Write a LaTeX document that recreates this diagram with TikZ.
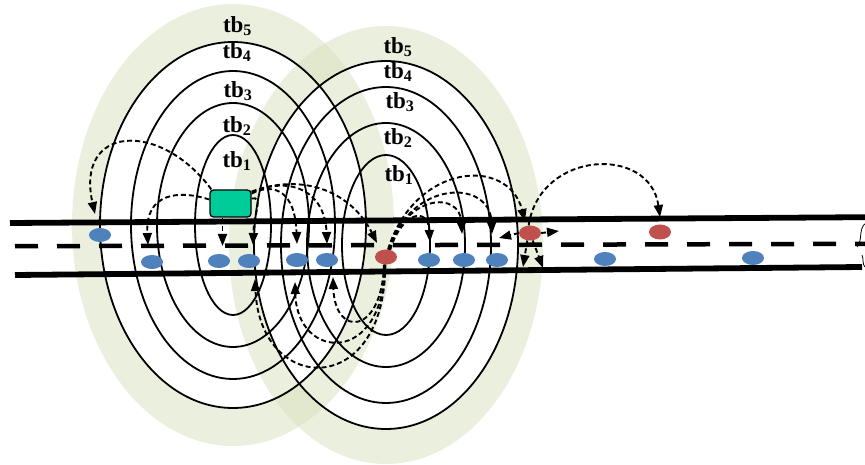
\documentclass[tikz,border=0pt]{standalone}
\usepackage{fontspec}
\setmainfont{Liberation Serif}
\usetikzlibrary{arrows.meta,shapes.geometric}
\definecolor{vblue}{RGB}{79,129,189}
\definecolor{vred}{RGB}{192,80,77}
\definecolor{carc}{RGB}{0,204,153}
\definecolor{halo}{RGB}{215,225,189}
\tikzset{
  ring/.style={draw=black,line width=1.8pt},
  halofill/.style={fill=halo,fill opacity=0.5,even odd rule},
  road/.style={line width=5.8pt},
  lane/.style={line width=4.5pt,dash pattern=on 23pt off 19pt},
  veh/.style={ellipse,minimum width=22pt,minimum height=14pt,inner sep=0pt},
  bveh/.style={veh,fill=vblue},
  rveh/.style={veh,fill=vred,minimum height=15pt},
  carbox/.style={rectangle,rounded corners=3.5pt,draw=black,line width=1.3pt,fill=carc,minimum width=41pt,minimum height=27pt,inner sep=0pt},
  msg/.style={dash pattern=on 5pt off 3pt,line width=1.9pt,-{Triangle[length=12pt,width=9pt]}},
  lbl/.style={font=\bfseries\fontsize{23}{23}\selectfont,inner sep=0pt},
}
\begin{document}
\begin{tikzpicture}[x=1pt,y=-1pt]
\useasboundingbox (0,0) rectangle (865,465);
% halos
\fill[halofill] (233,225) ellipse [x radius=161pt, y radius=221pt] (233,225) ellipse [x radius=133pt, y radius=183pt];
\fill[halofill] (386,245) ellipse [x radius=157pt, y radius=219pt] (386,245) ellipse [x radius=132pt, y radius=184pt];
% left rings
\draw[ring] (233,225) ellipse [x radius=38pt, y radius=90pt];
\draw[ring] (233,225) ellipse [x radius=76pt, y radius=122pt];
\draw[ring] (233,225) ellipse [x radius=102pt, y radius=154pt];
\draw[ring] (233,225) ellipse [x radius=133pt, y radius=183pt];
% right rings
\draw[ring] (386,245) ellipse [x radius=44pt, y radius=90pt];
\draw[ring] (386,245) ellipse [x radius=79pt, y radius=122pt];
\draw[ring] (386,245) ellipse [x radius=105pt, y radius=158pt];
\draw[ring] (386,245) ellipse [x radius=132pt, y radius=184pt];
% road
\draw[road] (10,223) -- (865,217.2);
\draw[road] (15,275) -- (862,267);
\draw[lane] (15,246.2) -- (865,243.8);
\draw[line width=0.8pt] (866,223) .. controls (858,228) and (863,241) .. (857,247);
\draw[line width=0.8pt] (862,255) .. controls (864,260) and (862,264) .. (865,267);
% labels
\node[lbl] (l5) at (237.5,26) {tb\textsubscript{5}};
\node[lbl] (l4) at (237,52) {tb\textsubscript{4}};
\node[lbl] (l3) at (238,91) {tb\textsubscript{3}};
\node[lbl] (l2) at (237,126) {tb\textsubscript{2}};
\node[lbl] (l1) at (237,161) {tb\textsubscript{1}};
\node[lbl] (r5l) at (398,47) {tb\textsubscript{5}};
\node[lbl] (r4l) at (398,72) {tb\textsubscript{4}};
\node[lbl] (r3l) at (400,102) {tb\textsubscript{3}};
\node[lbl] (r2l) at (398,138) {tb\textsubscript{2}};
\node[lbl] (r1l) at (399,175) {tb\textsubscript{1}};
% car and vehicles
\node[carbox] (car) at (230.5,203.5) {};
\node[bveh] (b1) at (100,235) {};
\node[bveh] (b2) at (152,262) {};
\node[bveh] (b3) at (219,261) {};
\node[bveh] (b4) at (249,261) {};
\node[bveh] (b5) at (297,260) {};
\node[bveh] (b6) at (327,260) {};
\node[bveh] (b7) at (429,260) {};
\node[bveh] (b8) at (464,260) {};
\node[bveh] (b9) at (497,260) {};
\node[bveh] (b10) at (605,259) {};
\node[bveh] (b11) at (753,258) {};
\node[rveh] (r1) at (386,257) {};
\node[rveh] (r2) at (530,233) {};
\node[rveh] (r3) at (660,232) {};
% arrow tips
\coordinate (t1) at (95,214);
\coordinate (t2) at (148,245);
\coordinate (t3) at (222.5,246);
\coordinate (t4) at (253,245);
\coordinate (t5) at (297,244);
\coordinate (t6) at (327,244);
\coordinate (t7) at (377,243);
\coordinate (t8) at (430,242);
\coordinate (t9) at (462,234);
\coordinate (t10) at (492,234);
\coordinate (t11) at (525,221);
\coordinate (t12) at (333,277);
\coordinate (t13) at (295,282);
\coordinate (t14) at (255,279);
\coordinate (t15) at (660,217);
\coordinate (t16) at (499,238);
\coordinate (t17) at (559,231);
\coordinate (t18) at (523,267);
\coordinate (t19) at (543,268);
% messages from the car
\draw[msg] ([xshift=2pt]car.north west) .. controls (160,120) and (75,125) .. (t1);
\draw[msg] ([yshift=4pt]car.west) .. controls (180,190) and (145,192) .. (t2);
\draw[msg] ([xshift=-8pt]car.south) -- (t3);
\draw[msg] ([yshift=5pt]car.east) .. controls (264,196) and (254,212) .. (t4);
\draw[msg] ([yshift=10pt]car.east) .. controls (275,182) and (295,192) .. (t5);
\draw[msg] ([yshift=11pt]car.east) .. controls (292,175) and (325,192) .. (t6);
\draw[msg] ([yshift=12pt]car.east) .. controls (305,172) and (352,193) .. (t7);
% messages from r1
\draw[msg] (r1.60) .. controls (402,212) and (428,206) .. (t8);
\draw[msg] (r1.65) .. controls (405,195) and (460,190) .. (t9);
\draw[msg] (r1.70) .. controls (410,180) and (490,178) .. (t10);
\draw[msg] (r1.75) .. controls (415,163) and (508,156) .. (t11);
\draw[msg] (r1.255) .. controls (382,335) and (335,338) .. (t12);
\draw[msg] (r1.260) .. controls (385,365) and (297,362) .. (t13);
\draw[msg] (r1.265) .. controls (385,400) and (260,395) .. (t14);
% messages from r2
\draw[msg] (r2.100) .. controls (540,150) and (650,145) .. (t15);
\draw[msg] (r2.west) -- (t16);
\draw[msg] (r2.east) -- (t17);
\draw[msg] (r2.250) -- (t18);
\draw[msg] (r2.290) -- (t19);
\end{tikzpicture}
\end{document}
